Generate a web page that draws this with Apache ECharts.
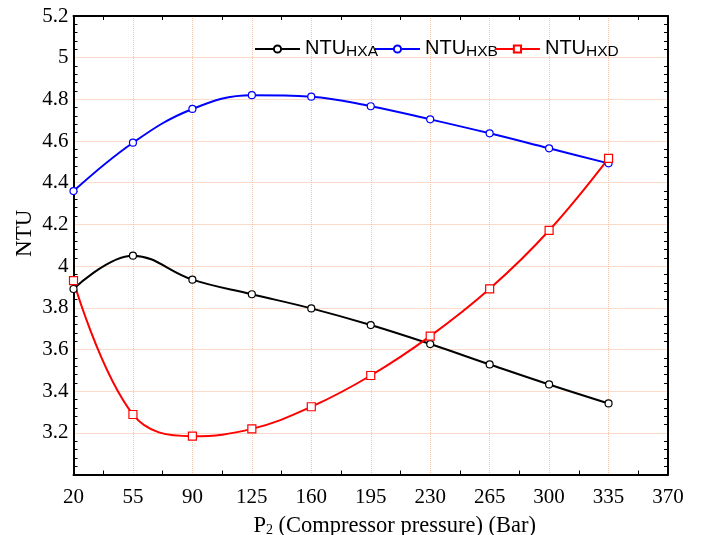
<!DOCTYPE html>
<html>
<head>
<meta charset="utf-8">
<script src="https://cdn.jsdelivr.net/npm/echarts@6/dist/echarts.min.js"></script>
<style>
html,body{margin:0;padding:0;background:#fff;}
#chart{width:701px;height:535px;}
</style>
</head>
<body>
<div id="chart"></div>
<script>
// ---- data ----
const pressures = [20, 55, 90, 125, 160, 195, 230, 265, 300, 335];
const ntuHXA = [3.89, 4.05, 3.935, 3.865, 3.797, 3.717, 3.626, 3.528, 3.432, 3.341];
const ntuHXB = [4.36, 4.592, 4.754, 4.82, 4.813, 4.767, 4.704, 4.637, 4.565, 4.493];
const ntuHXD = [3.93, 3.288, 3.184, 3.219, 3.325, 3.475, 3.664, 3.891, 4.171, 4.517];
const seriesSubs = ['HXA', 'HXB', 'HXD'];
const xTickMin = 20, xTickMax = 370, xTickStep = 35;
const yTickMin = 3.0, yTickMax = 5.2, yTickStep = 0.2;

const chart = echarts.init(document.getElementById('chart'), null, {renderer: 'canvas'});
const serif = 'Liberation Serif, Times New Roman, serif';
const sans = 'Liberation Sans, Arial, sans-serif';

function pairs(vals) { return pressures.map((p, i) => [p, vals[i]]); }

const axisLineStyle = {show: true, lineStyle: {color: '#000', width: 2}};
const gridLineY = {show: true, lineStyle: {color: '#f7b492', type: 'dotted', width: 1}};
const gridLineX = {show: true, lineStyle: {color: '#f9c3a6', type: 'dotted', width: 1}};

const option = {
  backgroundColor: '#fff',
  animation: false,
  grid: {left: 73.5, right: 33, top: 16, bottom: 60.5, containLabel: false, outerBoundsMode: 'none'},
  legend: {
    left: 249, top: 26,
    itemWidth: 45, itemHeight: 9, itemGap: -4,
    data: seriesSubs.map(s => 'NTU' + s),
    formatter: name => '{n|NTU}{s|' + name.slice(3) + '}',
    textStyle: {
      color: '#000',
      rich: {
        n: {fontFamily: sans, fontSize: 20, color: '#000', lineHeight: 22, verticalAlign: 'top'},
        s: {fontFamily: sans, fontSize: 15.5, color: '#000', lineHeight: 16, verticalAlign: 'bottom', padding: [13, 0, 0, 0]}
      }
    }
  },
  xAxis: [{
    type: 'value', position: 'bottom',
    min: xTickMin, max: xTickMax, interval: xTickStep,
    axisLine: axisLineStyle,
    axisTick: {show: false, inside: true},
    minorTick: {show: true, splitNumber: 2, length: 4, lineStyle: {color: '#000', width: 1}},
    splitLine: gridLineX,
    axisLabel: {fontFamily: serif, fontSize: 21, color: '#000', margin: 12},
    name: '{a|P}{b|2}{a| (Compressor pressure) (Bar)}',
    nameLocation: 'middle', nameGap: 40, nameMoveOverlap: false,
    nameTextStyle: {
      padding: [0, 0, 0, 48],
      rich: {
        a: {fontFamily: serif, fontSize: 22.5, color: '#000'},
        b: {fontFamily: serif, fontSize: 14, color: '#000', padding: [8, 0, 0, 0]}
      }
    }
  }, {
    type: 'value', position: 'top',
    min: xTickMin, max: xTickMax, interval: xTickStep,
    axisLine: axisLineStyle,
    axisTick: {show: false, inside: true},
    minorTick: {show: true, splitNumber: 2, length: 4, lineStyle: {color: '#000', width: 1}},
    splitLine: {show: false},
    axisLabel: {show: false}
  }],
  yAxis: [{
    type: 'value', position: 'left',
    min: yTickMin, max: yTickMax, interval: yTickStep,
    axisLine: axisLineStyle,
    axisTick: {show: false, inside: true},
    minorTick: {show: true, splitNumber: 5, length: 4, lineStyle: {color: '#000', width: 1}},
    splitLine: gridLineY,
    axisLabel: {fontFamily: serif, fontSize: 21, color: '#000', margin: 5, showMinLabel: false},
    name: 'NTU', nameLocation: 'middle', nameGap: 37, nameMoveOverlap: false,
    nameTextStyle: {fontFamily: serif, fontSize: 23, color: '#000', padding: [0, 0, 0, 24]}
  }, {
    type: 'value', position: 'right',
    min: yTickMin, max: yTickMax, interval: yTickStep,
    axisLine: axisLineStyle,
    axisTick: {show: false, inside: true},
    minorTick: {show: true, splitNumber: 5, length: 4, lineStyle: {color: '#000', width: 1}},
    splitLine: {show: false},
    axisLabel: {show: false}
  }],
  series: [
    {
      name: 'NTUHXA', type: 'line', smooth: 0.4, data: pairs(ntuHXA),
      symbol: 'circle', symbolSize: 7,
      lineStyle: {color: '#000', width: 2},
      itemStyle: {color: '#fff', borderColor: '#000', borderWidth: 1.2}
    },
    {
      name: 'NTUHXB', type: 'line', smooth: 0.4, data: pairs(ntuHXB),
      symbol: 'circle', symbolSize: 7,
      lineStyle: {color: '#0000ff', width: 2},
      itemStyle: {color: '#fff', borderColor: '#0000ff', borderWidth: 1.2}
    },
    {
      name: 'NTUHXD', type: 'line', smooth: 0.4, data: pairs(ntuHXD),
      symbol: 'rect', symbolSize: 8,
      lineStyle: {color: '#ff0000', width: 2},
      itemStyle: {color: '#fff', borderColor: '#ff0000', borderWidth: 1.2}
    }
  ]
};
chart.setOption(option);
</script>
</body>
</html>
